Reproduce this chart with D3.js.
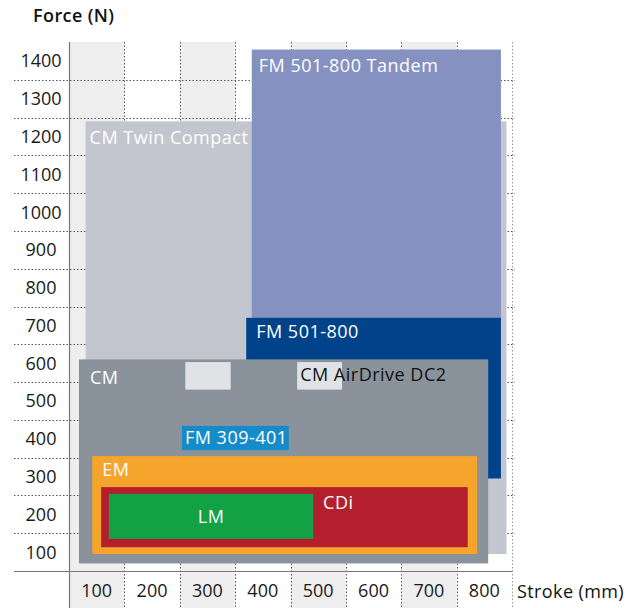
<!DOCTYPE html>
<html>
<head>
<meta charset="utf-8">
<script src="https://cdn.jsdelivr.net/npm/d3@7"></script>
<style>
  html, body { margin: 0; padding: 0; background: #fff; }
  svg { display: block; font-family: "Open Sans", "Noto Sans", sans-serif; }
</style>
</head>
<body>
<svg id="chart" width="641" height="608"></svg>
<script>
// ---------- data ----------
const products = ["CM Twin Compact", "FM 501-800 Tandem", "FM 501-800", "CM", "CM AirDrive DC2", "CM AirDrive DC2 (b)", "FM 309-401", "EM", "CDi", "LM"];
const strokeMin = [30, 330, 320, 18, 210, 412, 204, 42, 58, 72];
const strokeMax = [790, 780, 780, 757, 292, 493, 397, 737, 720, 441];
const forceMin  = [45, 245, 245, 20, 480, 480, 320, 45, 63, 85];
const forceMax  = [1190, 1380, 670, 560, 553, 553, 384, 304, 222, 204];
const labels    = ["CM Twin Compact", "FM 501-800 Tandem", "FM 501-800", "CM", "", "CM AirDrive DC2", "FM 309-401", "EM", "CDi", "LM"];
const strokeTicks = [100, 200, 300, 400, 500, 600, 700, 800];
const forceTicks  = [100, 200, 300, 400, 500, 600, 700, 800, 900, 1000, 1100, 1200, 1300, 1400];
const xTitle = "Stroke (mm)";
const yTitle = "Force (N)";

// ---------- styles ----------
const fills = ["#c3c6ce", "#8592c1", "#00438a", "#8a939c", "#e1e2e6", "#e1e2e6", "#168bc9", "#f5a52c", "#b31f2c", "#12a245"];
const textColors = ["#fff", "#fff", "#fff", "#fff", "#111", "#111", "#fff", "#fff", "#fff", "#fff"];
// label placement: [dx px from left edge, dy px from top edge] or "center"
const labelPlace = [[4, 23], [7, 22], [10, 20], [11, 25], [0, 0], [3, 19], [3, 18], [10, 20], [222, 22], "center"];

// ---------- layout ----------
const svg = d3.select("#chart");
const x = d3.scaleLinear().domain([0, 800]).range([69, 512]);
const y = d3.scaleLinear().domain([0, 1400]).range([571, 42]);
const H = 608;

// alternating column shading (plot + label strip)
svg.append("g").selectAll("rect")
  .data(strokeTicks.filter((d, i) => i % 2 === 0))
  .join("rect")
  .attr("x", d => x(d - 100))
  .attr("width", d => x(d) - x(d - 100))
  .attr("y", y(1400))
  .attr("height", H - y(1400))
  .attr("fill", "#eeeeee");

// horizontal gridlines
svg.append("g").selectAll("line")
  .data(forceTicks.slice(0, -1))
  .join("line")
  .attr("x1", 14).attr("x2", x(800) + 3)
  .attr("y1", d => Math.round(y(d)) + 0.5).attr("y2", d => Math.round(y(d)) + 0.5)
  .attr("stroke", "#555").attr("stroke-width", 1).attr("stroke-dasharray", "1.5,2");

// vertical gridlines
svg.append("g").selectAll("line")
  .data(strokeTicks)
  .join("line")
  .attr("x1", d => Math.round(x(d)) + 0.5).attr("x2", d => Math.round(x(d)) + 0.5)
  .attr("y1", y(1400)).attr("y2", H)
  .attr("stroke", d => d === 800 ? "#999" : "#555")
  .attr("stroke-width", 1).attr("stroke-dasharray", "1.5,2");

// product regions
const idx = d3.range(products.length);
svg.append("g").selectAll("rect")
  .data(idx)
  .join("rect")
  .attr("x", i => x(strokeMin[i]))
  .attr("y", i => y(forceMax[i]))
  .attr("width", i => x(strokeMax[i]) - x(strokeMin[i]))
  .attr("height", i => y(forceMin[i]) - y(forceMax[i]))
  .attr("fill", i => fills[i]);

// region labels
svg.append("g").selectAll("text")
  .data(idx.filter(i => labels[i]))
  .join("text")
  .attr("x", i => labelPlace[i] === "center" ? (x(strokeMin[i]) + x(strokeMax[i])) / 2 : x(strokeMin[i]) + labelPlace[i][0])
  .attr("y", i => labelPlace[i] === "center" ? (y(forceMin[i]) + y(forceMax[i])) / 2 + 7 : y(forceMax[i]) + labelPlace[i][1])
  .attr("text-anchor", i => labelPlace[i] === "center" ? "middle" : "start")
  .attr("fill", i => textColors[i])
  .attr("font-size", 18)
  .attr("letter-spacing", 0.5)
  .text(i => labels[i]);

// axis lines
svg.append("line")
  .attr("x1", 14).attr("x2", x(800)).attr("y1", y(0) + 0.5).attr("y2", y(0) + 0.5)
  .attr("stroke", "#777").attr("stroke-width", 1);
svg.append("line")
  .attr("x1", x(0) + 0.5).attr("x2", x(0) + 0.5).attr("y1", y(1400)).attr("y2", H)
  .attr("stroke", "#777").attr("stroke-width", 1.2);

// y tick labels (centered in their band)
svg.append("g").selectAll("text")
  .data(forceTicks)
  .join("text")
  .attr("x", 41)
  .attr("y", d => y(d - 50))
  .attr("dy", "0.36em")
  .attr("text-anchor", "middle")
  .attr("fill", "#1a1a1a")
  .attr("font-size", 18)
  .text(d => d);

// x tick labels
svg.append("g").selectAll("text")
  .data(strokeTicks)
  .join("text")
  .attr("x", d => x(d - 50))
  .attr("y", 597)
  .attr("text-anchor", "middle")
  .attr("fill", "#1a1a1a")
  .attr("font-size", 18)
  .text(d => d);

// titles
svg.append("text").attr("x", 33).attr("y", 22)
  .attr("font-size", 18).attr("font-weight", 600).attr("letter-spacing", 0.4).attr("fill", "#111").text(yTitle);
svg.append("text").attr("x", 517).attr("y", 598)
  .attr("font-size", 18).attr("font-weight", 500).attr("letter-spacing", 0.4).attr("fill", "#111").text(xTitle);
</script>
</body>
</html>
